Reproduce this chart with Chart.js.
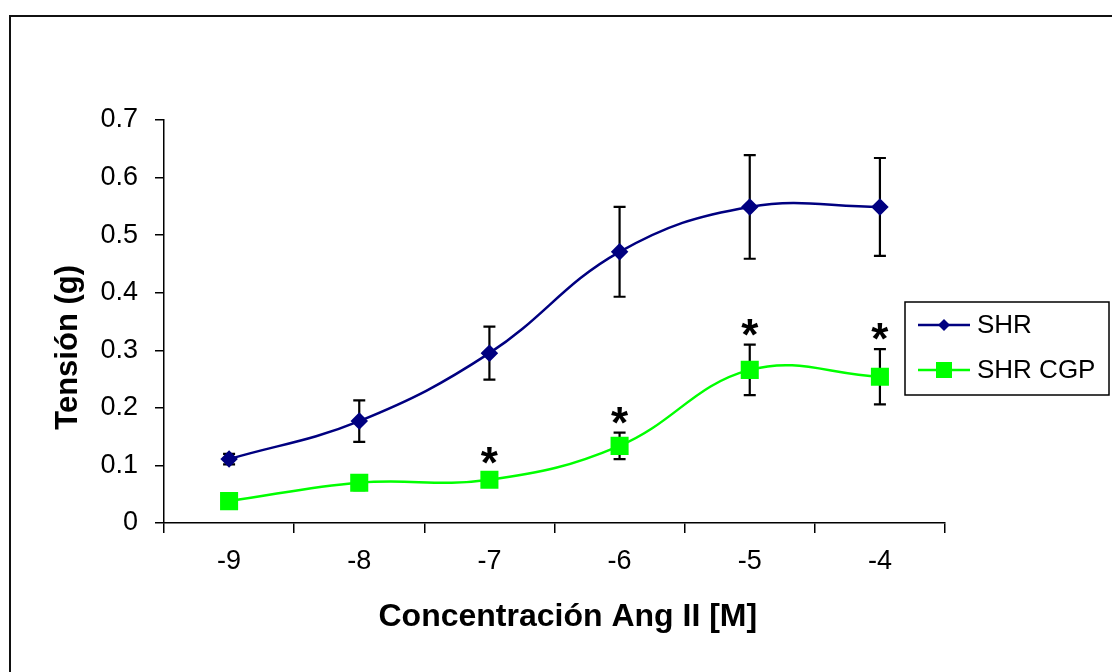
<!DOCTYPE html>
<html><head><meta charset="utf-8">
<script src="https://cdn.jsdelivr.net/npm/chart.js@4"></script>
<style>
html,body{margin:0;padding:0;background:#fff;}
#wrap{position:relative;width:1112px;height:672px;overflow:hidden;background:#fff;}
#frame{position:absolute;left:9px;top:15px;width:1300px;height:800px;border:2px solid #111;box-sizing:border-box;}
canvas{position:absolute;left:0;top:0;}
</style></head><body>
<div id="wrap"><div id="frame"></div><canvas id="c" width="1112" height="672"></canvas></div>
<script>
const categories = ['-9', '-8', '-7', '-6', '-5', '-4'];
const shrValues = [0.111, 0.177, 0.295, 0.471, 0.549, 0.549];
const shrErrors = [0.009, 0.036, 0.046, 0.078, 0.090, 0.085];
const cgpValues = [0.038, 0.070, 0.075, 0.134, 0.266, 0.254];
const cgpErrors = [0.004, 0.013, 0.012, 0.023, 0.044, 0.048];
const cgpSignificant = [false, false, true, true, true, true];
const yTickValues = [0, 0.1, 0.2, 0.3, 0.4, 0.5, 0.6, 0.7];
const seriesNames = ['SHR', 'SHR CGP'];

const FONT = 'Arial, "Liberation Sans", sans-serif';

const errorBars = {
  id: 'errorBars',
  beforeDatasetsDraw(chart) {
    const ctx = chart.ctx, y = chart.scales.y;
    const errs = [shrErrors, cgpErrors];
    chart.data.datasets.forEach((ds, di) => {
      const meta = chart.getDatasetMeta(di);
      meta.data.forEach((pt, i) => {
        const v = ds.data[i], e = errs[di][i];
        const yt = y.getPixelForValue(v + e), yb = y.getPixelForValue(v - e);
        ctx.save();
        ctx.strokeStyle = '#000'; ctx.lineWidth = 2.2;
        ctx.beginPath();
        ctx.moveTo(pt.x, yt); ctx.lineTo(pt.x, yb);
        ctx.moveTo(pt.x - 6, yt); ctx.lineTo(pt.x + 6, yt);
        ctx.moveTo(pt.x - 6, yb); ctx.lineTo(pt.x + 6, yb);
        ctx.stroke();
        ctx.restore();
      });
    });
  },
  afterDatasetsDraw(chart) {
    const ctx = chart.ctx, y = chart.scales.y;
    const meta = chart.getDatasetMeta(1);
    ctx.save();
    ctx.fillStyle = '#000';
    ctx.font = 'bold 44px ' + FONT;
    ctx.textAlign = 'center';
    ctx.textBaseline = 'alphabetic';
    meta.data.forEach((pt, i) => {
      if (!cgpSignificant[i]) return;
      const yt = y.getPixelForValue(cgpValues[i] + cgpErrors[i]);
      ctx.fillText('*', pt.x, yt + 5);
    });
    ctx.restore();
  }
};

const customLegend = {
  id: 'customLegend',
  afterDraw(chart) {
    const ctx = chart.ctx;
    const bx = 905, by = 302, bw = 204, bh = 93;
    ctx.save();
    ctx.strokeStyle = '#000'; ctx.lineWidth = 1.5;
    ctx.strokeRect(bx, by, bw, bh);
    ctx.font = '26px ' + FONT;
    ctx.textBaseline = 'middle';
    ctx.textAlign = 'left';
    chart.data.datasets.forEach((ds, i) => {
      const yy = by + 23 + i * 45;
      ctx.strokeStyle = ds.borderColor; ctx.lineWidth = 2.5;
      ctx.beginPath(); ctx.moveTo(bx + 13, yy); ctx.lineTo(bx + 65, yy); ctx.stroke();
      ctx.fillStyle = ds.pointBackgroundColor;
      const cx = bx + 39;
      if (i === 0) {
        ctx.beginPath();
        ctx.moveTo(cx - 6, yy); ctx.lineTo(cx, yy - 6); ctx.lineTo(cx + 6, yy); ctx.lineTo(cx, yy + 6);
        ctx.closePath(); ctx.fill();
      } else {
        ctx.fillRect(cx - 8, yy - 8, 16, 16);
      }
      ctx.fillStyle = '#000';
      ctx.fillText(ds.label, bx + 72, yy + 1);
    });
    ctx.restore();
  }
};

new Chart(document.getElementById('c'), {
  type: 'line',
  data: {
    labels: categories,
    datasets: [
      {
        label: seriesNames[0], data: shrValues,
        borderColor: '#000080', backgroundColor: '#000080',
        pointBackgroundColor: '#000080', pointBorderColor: '#000080',
        pointStyle: 'rectRot', pointRadius: 7, borderWidth: 2.5, tension: 0.4, fill: false
      },
      {
        label: seriesNames[1], data: cgpValues,
        borderColor: '#00ff00', backgroundColor: '#00ff00',
        pointBackgroundColor: '#00ff00', pointBorderColor: '#00ff00',
        pointStyle: 'rect', pointRadius: 11, borderWidth: 2.5, tension: 0.4, fill: false
      }
    ]
  },
  options: {
    responsive: false, animation: false, devicePixelRatio: 1,
    layout: { padding: { left: 50, top: 120, right: 167, bottom: 36 } },
    plugins: { legend: { display: false }, tooltip: { enabled: false } },
    scales: {
      x: {
        type: 'category', offset: true,
        grid: { display: true, offset: true, drawOnChartArea: false, drawTicks: true, tickLength: 10, color: '#000', lineWidth: 1.5 },
        border: { display: true, color: '#000', width: 1.5 },
        ticks: { color: '#000', font: { family: FONT, size: 27 }, padding: 12, maxRotation: 0 },
        title: { display: true, text: '\u00A0\u00A0\u00A0Concentración Ang II [M]', color: '#000', font: { family: FONT, size: 32, weight: 'bold' }, padding: 0 },
        afterFit(s) { s.height = 113; }
      },
      y: {
        min: 0, max: 0.7,
        afterBuildTicks(s) { s.ticks = yTickValues.map(v => ({ value: v })); },
        grid: { display: true, drawOnChartArea: false, drawTicks: true, tickLength: 9, color: '#000', lineWidth: 1.5 },
        border: { display: true, color: '#000', width: 1.5 },
        ticks: { color: '#000', font: { family: FONT, size: 27 }, padding: 17, callback: v => v === 0 ? '0' : v.toFixed(1) },
        title: { display: true, text: 'Tensión (g)\u00A0\u00A0\u00A0\u00A0\u00A0\u00A0', color: '#000', font: { family: FONT, size: 31, weight: 'bold' }, padding: 0 },
        afterFit(s) { s.width = 114; }
      }
    }
  },
  plugins: [errorBars, customLegend]
});
</script>
</body></html>
